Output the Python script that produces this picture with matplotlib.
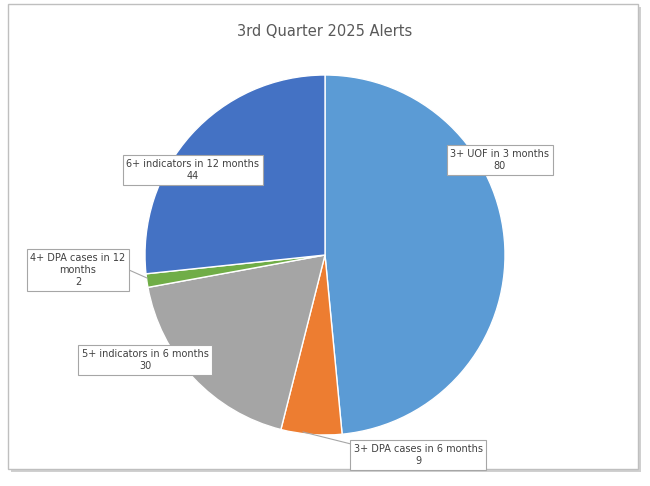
import matplotlib
matplotlib.use("Agg")
import matplotlib.pyplot as plt
from matplotlib.patches import Rectangle

categories = ["3+ UOF in 3 months", "3+ DPA cases in 6 months", "5+ indicators in 6 months",
              "4+ DPA cases in 12\nmonths", "6+ indicators in 12 months"]
values = [80, 9, 30, 2, 44]
colors = ["#5B9BD5", "#ED7D31", "#A5A5A5", "#70AD47", "#4472C4"]
title = "3rd Quarter 2025 Alerts"

W, H = 650, 486
fig = plt.figure(figsize=(6.5, 4.86), dpi=100)
ax = fig.add_axes([0, 0, 1, 1])
ax.set_xlim(0, W); ax.set_ylim(0, H); ax.set_aspect("equal"); ax.axis("off")
Y = lambda py: H - py

ax.add_patch(Rectangle((11, Y(472)), 630, 465, facecolor="#d0d0d0", edgecolor="none", zorder=0))
ax.add_patch(Rectangle((8, Y(469)), 630, 465, facecolor="white", edgecolor="#bfbfbf", lw=1, zorder=0.5))

ax.pie(values, colors=colors, startangle=90, counterclock=False, center=(325, Y(255)),
       radius=180, frame=True, wedgeprops=dict(edgecolor="white", linewidth=1))
ax.set_xlim(0, W); ax.set_ylim(0, H); ax.axis("off")

ax.text(325, Y(32), title, ha="center", va="center", fontsize=10.5, color="#595959")

label_pos = [(500, 160), (418, 455), (145, 360), (78, 270), (193, 170)]
bbox = dict(boxstyle="square,pad=0.35", facecolor="white", edgecolor="#a6a6a6", lw=0.8)
for c, v, (px, py) in zip(categories, values, label_pos):
    ax.text(px, Y(py), f"{c}\n{v}", ha="center", va="center", fontsize=7,
            color="#404040", bbox=bbox, linespacing=1.3, zorder=5)

ax.plot([303, 355], [Y(432), Y(445)], color="#a6a6a6", lw=0.8, zorder=4)
ax.plot([147, 129], [Y(278), Y(270)], color="#a6a6a6", lw=0.8, zorder=4)

fig.savefig("out.png", dpi=100)
